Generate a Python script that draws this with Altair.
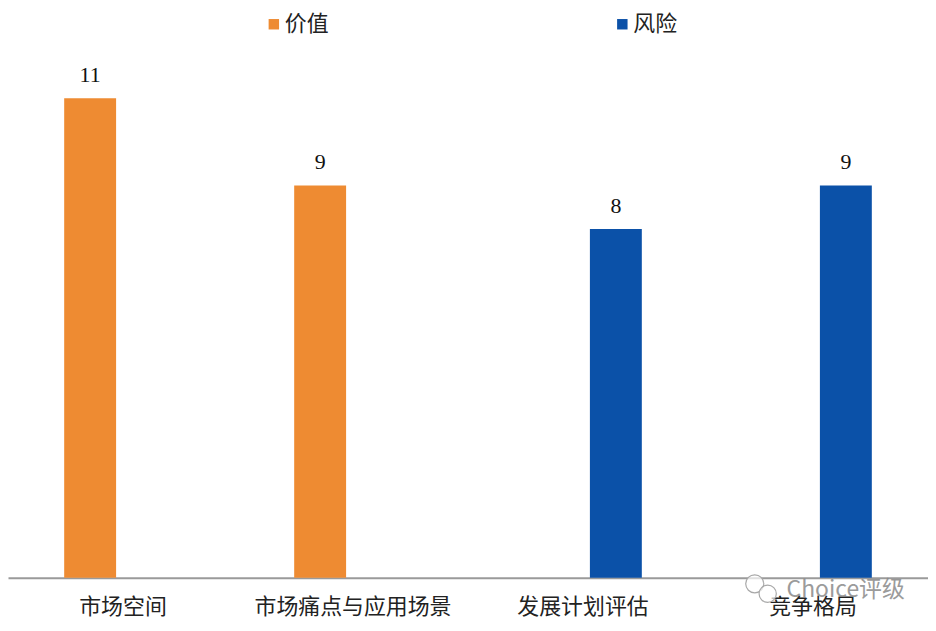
import altair as alt
import pandas as pd

categories = ["市场空间", "市场痛点与应用场景", "发展计划评估", "竞争格局"]
values = [11, 9, 8, 9]
groups = ["价值", "价值", "风险", "风险"]
legend_names = ["价值", "风险"]
colors = ["#EE8B32", "#0B51A8"]
watermark = ["Choice评级"]
FONT = "Noto Sans CJK SC"

df = pd.DataFrame({"cat": categories, "val": values, "group": groups})

x = alt.X("cat:N", sort=categories, title=None,
          scale=alt.Scale(paddingInner=0, paddingOuter=0),
          axis=alt.Axis(labelAngle=0, labelFontSize=22, labelFont=FONT, labelColor="#222222",
                        labelLimit=400, domainColor="#9A9A9A", domainWidth=2, ticks=False,
                        labelPadding=19))
x_off = alt.XOffset("group:N", sort=legend_names,
                    scale=alt.Scale(paddingInner=0.21, paddingOuter=0.855))
y = alt.Y("val:Q", title=None, axis=None, scale=alt.Scale(domain=[0, 12.33]))

bars = alt.Chart(df).mark_bar().encode(
    x=x, xOffset=x_off, y=y,
    color=alt.Color("group:N", sort=legend_names,
                    scale=alt.Scale(domain=legend_names, range=colors),
                    legend=alt.Legend(orient="none", legendX=256, legendY=-27, direction="horizontal",
                                      title=None, columnPadding=283, symbolType="square",
                                      symbolSize=110, labelOffset=0, labelFontSize=22, labelFont=FONT,
                                      labelColor="#222222")))
text = alt.Chart(df).mark_text(dy=-23, font="Liberation Serif", fontSize=22, color="#111111").encode(
    x=alt.X("cat:N", sort=categories), xOffset=x_off, y=y, text="val:Q")
mark = alt.Chart(pd.DataFrame({"t": watermark})).mark_text(
    font=FONT, fontSize=23, color="#8A8A8A", align="left", opacity=0.85
).encode(x=alt.value(782), y=alt.value(552), text="t:N")
bubble_a = alt.Chart(pd.DataFrame({"t": watermark})).mark_point(
    shape="circle", size=330, stroke="#A8A8A8", strokeWidth=1.2, fill="white", fillOpacity=0.7
).encode(x=alt.value(750), y=alt.value(546))
bubble_b = alt.Chart(pd.DataFrame({"t": watermark})).mark_point(
    shape="circle", size=300, stroke="#A8A8A8", strokeWidth=1.2, fill="white", fillOpacity=0.7
).encode(x=alt.value(763), y=alt.value(556))

chart = (bars + text + bubble_a + bubble_b + mark).properties(
    width=924, height=540, padding={"left": 0, "top": 4, "right": 0, "bottom": 0}
).configure_view(stroke=None)
chart.save("out.html", embed_options={"renderer": "svg", "actions": False})
